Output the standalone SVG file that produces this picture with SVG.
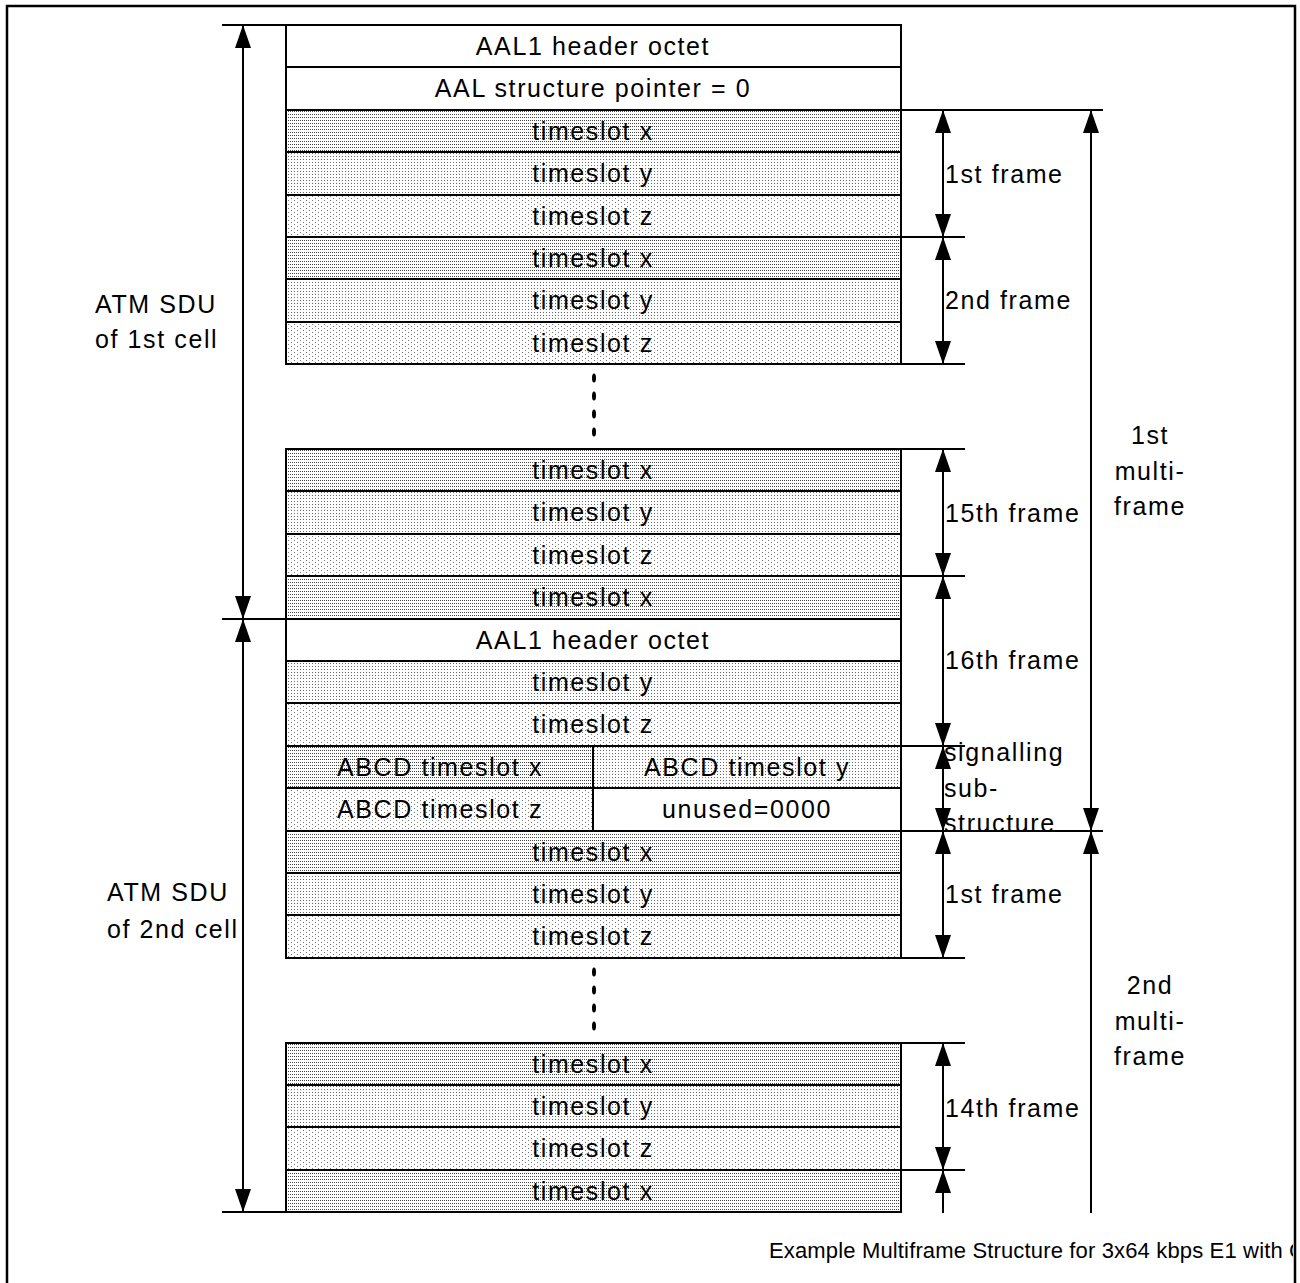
<svg xmlns="http://www.w3.org/2000/svg" width="1300" height="1283" viewBox="0 0 1300 1283">
<style>
.t{font-family:"Liberation Sans",Arial,sans-serif;font-size:25px;letter-spacing:1.6px;fill:#000}
.c{text-anchor:middle}
.cap{font-family:"Liberation Sans",Arial,sans-serif;font-size:22px;fill:#000}
.cell{stroke:#000;stroke-width:2}
.w{fill:#fff}
.x{fill:url(#px)}
.y{fill:url(#py)}
.z{fill:url(#pz)}
.ln{stroke:#000;stroke-width:2;fill:none}
.ar{stroke:#000;stroke-width:2;fill:none;marker-start:url(#ah);marker-end:url(#ah)}
.ar1{stroke:#000;stroke-width:2;fill:none;marker-start:url(#ah)}
</style>
<defs>
<pattern id="px" width="2" height="3" patternUnits="userSpaceOnUse"><rect width="2" height="3" fill="#fff"/><rect width="1" height="1" fill="#444"/></pattern>
<pattern id="py" width="3" height="3" patternUnits="userSpaceOnUse"><rect width="3" height="3" fill="#fff"/><rect width="1" height="1" fill="#666"/></pattern>
<pattern id="pz" width="6" height="4" patternUnits="userSpaceOnUse"><rect width="6" height="4" fill="#fff"/><rect width="1" height="1" fill="#777"/><rect x="3" y="2" width="1" height="1" fill="#777"/></pattern>
<marker id="ah" viewBox="0 0 23 16" refX="23" refY="8" markerWidth="23" markerHeight="16" markerUnits="userSpaceOnUse" orient="auto-start-reverse"><path d="M0,0 L23,8 L0,16 z" fill="#000"/></marker>
<clipPath id="clip"><rect x="0" y="0" width="1293" height="1283"/></clipPath>
</defs>
<rect width="1300" height="1283" fill="#fff"/>
<path d="M7,1283 V6 H1295 V1283" fill="none" stroke="#000" stroke-width="2.5"/>

<g id="cell1">
<g id="r0"><rect class="cell w" x="286" y="25" width="615" height="42"/><text class="t c" x="593" y="55">AAL1 header octet</text></g>
<g id="r1"><rect class="cell w" x="286" y="67" width="615" height="43"/><text class="t c" x="593" y="97">AAL structure pointer = 0</text></g>
<g id="r2"><rect class="cell x" x="286" y="110" width="615" height="42"/><text class="t c" x="593" y="140">timeslot x</text></g>
<g id="r3"><rect class="cell y" x="286" y="152" width="615" height="43"/><text class="t c" x="593" y="182">timeslot y</text></g>
<g id="r4"><rect class="cell z" x="286" y="195" width="615" height="42"/><text class="t c" x="593" y="225">timeslot z</text></g>
<g id="r5"><rect class="cell x" x="286" y="237" width="615" height="42"/><text class="t c" x="593" y="267">timeslot x</text></g>
<g id="r6"><rect class="cell y" x="286" y="279" width="615" height="43"/><text class="t c" x="593" y="309">timeslot y</text></g>
<g id="r7"><rect class="cell z" x="286" y="322" width="615" height="42"/><text class="t c" x="593" y="352">timeslot z</text></g>
<g id="dots1"><ellipse cx="594" cy="378" rx="2" ry="4.5"/><ellipse cx="594" cy="396" rx="2" ry="4.5"/><ellipse cx="594" cy="414" rx="2" ry="4.5"/><ellipse cx="594" cy="432" rx="2" ry="4.5"/></g>
<g id="r10"><rect class="cell x" x="286" y="449" width="615" height="42"/><text class="t c" x="593" y="479">timeslot x</text></g>
<g id="r11"><rect class="cell y" x="286" y="491" width="615" height="43"/><text class="t c" x="593" y="521">timeslot y</text></g>
<g id="r12"><rect class="cell z" x="286" y="534" width="615" height="42"/><text class="t c" x="593" y="564">timeslot z</text></g>
<g id="r13"><rect class="cell x" x="286" y="576" width="615" height="43"/><text class="t c" x="593" y="606">timeslot x</text></g>
</g>

<g id="cell2">
<g id="r14"><rect class="cell w" x="286" y="619" width="615" height="42"/><text class="t c" x="593" y="649">AAL1 header octet</text></g>
<g id="r15"><rect class="cell y" x="286" y="661" width="615" height="42"/><text class="t c" x="593" y="691">timeslot y</text></g>
<g id="r16"><rect class="cell z" x="286" y="703" width="615" height="43"/><text class="t c" x="593" y="733">timeslot z</text></g>
<g id="r17a"><rect class="cell x" x="286" y="746" width="307" height="42"/><text class="t c" x="440" y="776">ABCD timeslot x</text></g>
<g id="r17b"><rect class="cell y" x="593" y="746" width="308" height="42"/><text class="t c" x="747" y="776">ABCD timeslot y</text></g>
<g id="r18a"><rect class="cell z" x="286" y="788" width="307" height="43"/><text class="t c" x="440" y="818">ABCD timeslot z</text></g>
<g id="r18b"><rect class="cell w" x="593" y="788" width="308" height="43"/><text class="t c" x="747" y="818">unused=0000</text></g>
<g id="r19"><rect class="cell x" x="286" y="831" width="615" height="42"/><text class="t c" x="593" y="861">timeslot x</text></g>
<g id="r20"><rect class="cell y" x="286" y="873" width="615" height="42"/><text class="t c" x="593" y="903">timeslot y</text></g>
<g id="r21"><rect class="cell z" x="286" y="915" width="615" height="43"/><text class="t c" x="593" y="945">timeslot z</text></g>
<g id="dots2"><ellipse cx="594" cy="972" rx="2" ry="4.5"/><ellipse cx="594" cy="990" rx="2" ry="4.5"/><ellipse cx="594" cy="1008" rx="2" ry="4.5"/><ellipse cx="594" cy="1026" rx="2" ry="4.5"/></g>
<g id="r24"><rect class="cell x" x="286" y="1043" width="615" height="42"/><text class="t c" x="593" y="1073">timeslot x</text></g>
<g id="r25"><rect class="cell y" x="286" y="1085" width="615" height="42"/><text class="t c" x="593" y="1115">timeslot y</text></g>
<g id="r26"><rect class="cell z" x="286" y="1127" width="615" height="43"/><text class="t c" x="593" y="1157">timeslot z</text></g>
<g id="r27"><rect class="cell x" x="286" y="1170" width="615" height="42"/><text class="t c" x="593" y="1200">timeslot x</text></g>
</g>

<g id="connectors">
<path class="ln" d="M222,25 H286 M222,619 H286 M222,1212 H286 M901,110 H1103 M901,237 H965 M901,364 H965 M901,449 H965 M901,576 H965 M901,746 H965 M901,831 H1103 M901,958 H965 M901,1043 H965 M901,1170 H965"/>
<line class="ar" x1="243" y1="25" x2="243" y2="619"/>
<line class="ar" x1="243" y1="619" x2="243" y2="1212"/>
<line class="ar" x1="943" y1="110" x2="943" y2="237"/>
<line class="ar" x1="943" y1="237" x2="943" y2="364"/>
<line class="ar" x1="943" y1="449" x2="943" y2="576"/>
<line class="ar" x1="943" y1="576" x2="943" y2="746"/>
<line class="ar" x1="943" y1="746" x2="943" y2="831"/>
<line class="ar" x1="943" y1="831" x2="943" y2="958"/>
<line class="ar" x1="943" y1="1043" x2="943" y2="1170"/>
<line class="ar1" x1="943" y1="1170" x2="943" y2="1213"/>
<line class="ar" x1="1091" y1="110" x2="1091" y2="831"/>
<line class="ar1" x1="1091" y1="831" x2="1091" y2="1213"/>
</g>

<g id="labels">
<text class="t" x="95" y="313">ATM SDU</text>
<text class="t" x="95" y="348">of 1st cell</text>
<text class="t" x="107" y="901">ATM SDU</text>
<text class="t" x="107" y="938">of 2nd cell</text>
<text class="t" x="945" y="183">1st frame</text>
<text class="t" x="945" y="309">2nd frame</text>
<text class="t" x="945" y="522">15th frame</text>
<text class="t" x="945" y="669">16th frame</text>
<text class="t" x="944" y="761">signalling</text>
<text class="t" x="944" y="797">sub-</text>
<text class="t" x="944" y="832">structure</text>
<text class="t" x="945" y="903">1st frame</text>
<text class="t" x="945" y="1117">14th frame</text>
<text class="t c" x="1150" y="444">1st</text>
<text class="t c" x="1150" y="480">multi-</text>
<text class="t c" x="1150" y="515">frame</text>
<text class="t c" x="1150" y="994">2nd</text>
<text class="t c" x="1150" y="1030">multi-</text>
<text class="t c" x="1150" y="1065">frame</text>
<text class="cap" x="769" y="1258" textLength="536" lengthAdjust="spacing" clip-path="url(#clip)">Example Multiframe Structure for 3x64 kbps E1 with C</text>
</g>
</svg>
